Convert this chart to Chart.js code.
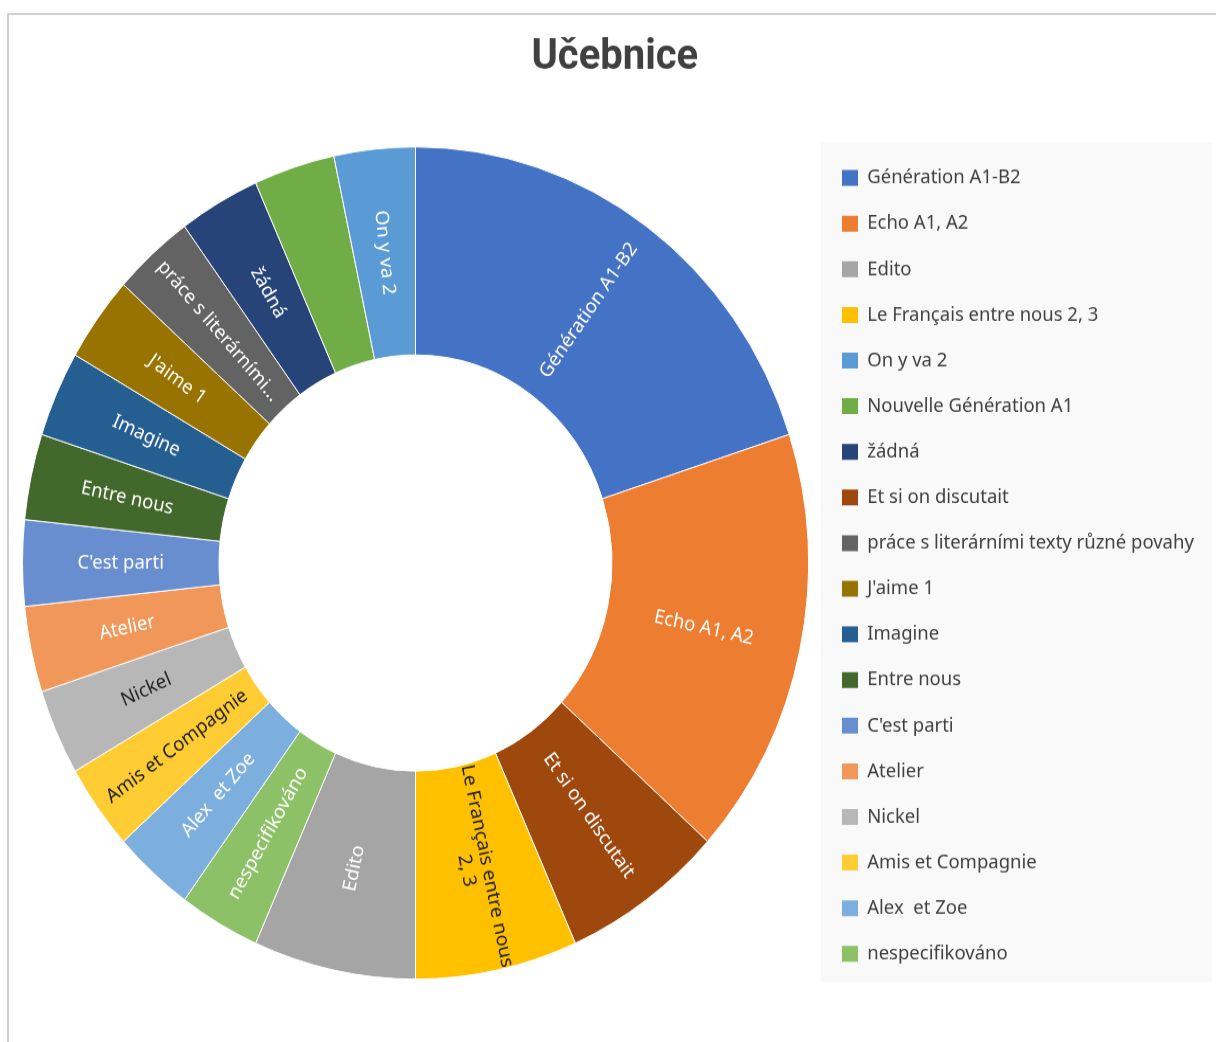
<!DOCTYPE html>
<html>
<head>
<meta charset="utf-8">
<title>Učebnice</title>
<script src="https://cdn.jsdelivr.net/npm/chart.js@4.4.1/dist/chart.umd.min.js"></script>
<style>
  body { margin: 0; background: #fff; }
  #frame { position: absolute; left: 7px; top: 13px; width: 1220px; height: 1040px; border-top: 2px solid #d2d2d2; border-left: 2px solid #d2d2d2; }
  /* the screenshot is a bit taller than wide, so the whole chart is stretched */
  #wrap { position: absolute; left: 0; top: 0; width: 1216px; height: 984px; transform: scaleY(1.0589); transform-origin: 0 0; }
</style>
</head>
<body>
<div id="frame"></div>
<div id="wrap"><canvas id="chart" width="1216" height="984"></canvas></div>
<script>
// slices clockwise from the top
var categories = ['Génération A1-B2', 'Echo A1, A2', 'Et si on discutait', 'Le Français entre nous 2, 3', 'Edito',
  'nespecifikováno', 'Alex  et Zoe', 'Amis et Compagnie', 'Nickel', 'Atelier', "C'est parti", 'Entre nous',
  'Imagine', "J'aime 1", 'práce s literárními texty různé povahy', 'žádná', 'Nouvelle Génération A1', 'On y va 2'];
var counts = [6, 5, 2, 2, 2, 1, 1, 1, 1, 1, 1, 1, 1, 1, 1, 1, 1, 1];

// text written inside the slices (short / wrapped versions)
var sliceLabels = ['Génération A1-B2', 'Echo A1, A2', 'Et si on discutait', ['Le Français entre nous', '2, 3'], 'Edito',
  'nespecifikováno', 'Alex  et Zoe', 'Amis et Compagnie', 'Nickel', 'Atelier', "C'est parti", 'Entre nous',
  'Imagine', "J'aime 1", 'práce s literárními...', 'žádná', '', 'On y va 2'];

// legend keeps the original sheet order
var legendOrder = ['Génération A1-B2', 'Echo A1, A2', 'Edito', 'Le Français entre nous 2, 3', 'On y va 2',
  'Nouvelle Génération A1', 'žádná', 'Et si on discutait', 'práce s literárními texty různé povahy', "J'aime 1",
  'Imagine', 'Entre nous', "C'est parti", 'Atelier', 'Nickel', 'Amis et Compagnie', 'Alex  et Zoe', 'nespecifikováno'];

var colors = ['#4472C4', '#ED7D31', '#9E480E', '#FFC000', '#A5A5A5', '#8CC168', '#7CAFDD', '#FFCD33', '#B7B7B7',
  '#F1975A', '#698ED0', '#43682B', '#255E91', '#997300', '#636363', '#264478', '#70AD47', '#5B9BD5'];
var darkText = [3, 7, 8];

var LEGEND_W = 398.6;

// fixed legend width + grey panel behind it
var legendPanel = {
  id: 'legendPanel',
  beforeLayout: function (chart) {
    var legend = chart.legend;
    if (!legend || legend._patched) return;
    var fit = legend.fit;
    legend.fit = function () {
      this.maxHeight = Math.max(this.maxHeight, 900);
      fit.call(this);
      this.width = LEGEND_W;
    };
    legend._patched = true;
  },
  afterLayout: function (chart) {
    // keep all items in one column
    var l = chart.legend;
    l.bottom = chart.height;
    l.height = l.bottom - l.top;
  },
  beforeDraw: function (chart) {
    var l = chart.legend;
    var ctx = chart.ctx;
    var top = l.top + 0.7;
    ctx.save();
    ctx.fillStyle = '#f9f9f9';
    ctx.fillRect(l.left + 3.6, top, 1212 - l.left - 3.6, chart.chartArea.bottom - 1.75 - top);
    ctx.restore();
  }
};

// labels rotated along the radius, like Excel does
var sliceText = {
  id: 'sliceText',
  afterDatasetsDraw: function (chart) {
    var ctx = chart.ctx;
    var arcs = chart.getDatasetMeta(0).data;
    ctx.save();
    ctx.font = '18.5px "Noto Sans"';
    ctx.textAlign = 'center';
    ctx.textBaseline = 'middle';
    arcs.forEach(function (arc, i) {
      var text = sliceLabels[i];
      if (!text) return;
      var p = arc.getProps(['x', 'y', 'startAngle', 'endAngle', 'innerRadius', 'outerRadius'], true);
      var mid = (p.startAngle + p.endAngle) / 2;
      var r = (p.innerRadius + p.outerRadius) / 2;
      var rot = Math.cos(mid) >= 0 ? mid : mid + Math.PI;
      var lines = [].concat(text);
      ctx.save();
      ctx.translate(p.x + Math.cos(mid) * r, p.y + Math.sin(mid) * r);
      ctx.rotate(rot);
      ctx.fillStyle = darkText.indexOf(i) >= 0 ? '#222222' : '#ffffff';
      lines.forEach(function (line, k) {
        ctx.fillText(line, 0, (k - (lines.length - 1) / 2) * 21);
      });
      ctx.restore();
    });
    ctx.restore();
  }
};

new Chart(document.getElementById('chart'), {
  type: 'doughnut',
  data: {
    labels: categories,
    datasets: [{
      data: counts,
      backgroundColor: colors,
      borderColor: '#ffffff',
      borderWidth: 1
    }]
  },
  options: {
    responsive: false,
    animation: false,
    devicePixelRatio: 1,
    cutout: '50%',
    radius: 393,
    layout: { padding: { left: 13.6, right: 0, top: 0, bottom: 54.85 } },
    plugins: {
      tooltip: { enabled: false },
      title: {
        display: true,
        text: 'Učebnice',
        color: '#404040',
        font: { family: 'Roboto', size: 40, weight: 'bold', lineHeight: 1.2 },
        padding: { top: 31, bottom: 55.25 }
      },
      legend: {
        position: 'right',
        align: 'start',
        fullSize: false,
        labels: {
          color: '#404040',
          font: { family: 'Noto Sans', size: 18.5 },
          boxWidth: 16,
          boxHeight: 15,
          padding: 24.6,
          generateLabels: function (chart) {
            var items = Chart.overrides.doughnut.plugins.legend.labels.generateLabels(chart);
            items.forEach(function (it) { it.lineWidth = 0; });
            return items;
          },
          sort: function (a, b) {
            return legendOrder.indexOf(a.text) - legendOrder.indexOf(b.text);
          }
        }
      }
    }
  },
  plugins: [legendPanel, sliceText]
});
</script>
</body>
</html>
